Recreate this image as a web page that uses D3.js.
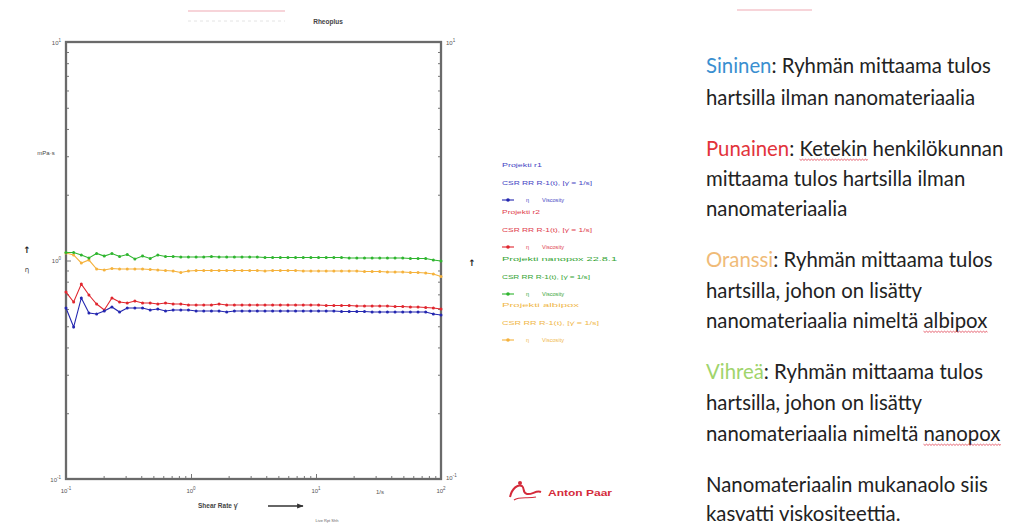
<!DOCTYPE html>
<html><head><meta charset="utf-8">
<script src="https://cdn.jsdelivr.net/npm/d3@7"></script>
<style>body{margin:0;background:#fff}svg{display:block}</style>
</head><body>
<svg id="c" width="1016" height="526"></svg>
<script>
// ---------- data ----------
const shearRate = [0.1,0.1151,0.1326,0.1526,0.1758,0.2024,0.2330,0.2683,0.3089,0.3556,
  0.4095,0.4715,0.5429,0.6251,0.7197,0.8287,0.9541,1.0985,1.2649,1.4564,
  1.6768,1.9307,2.2230,2.5595,2.9471,3.3932,3.9069,4.4984,5.1795,5.9636,
  6.8665,7.9060,9.1030,10.481,12.068,13.895,15.999,18.421,21.210,24.421,
  28.118,32.375,37.276,42.919,49.417,56.899,65.513,75.431,86.851,100];
const blueVisc = [0.606,0.496,0.674,0.575,0.569,0.587,0.613,0.581,0.606,0.606,
  0.606,0.594,0.600,0.587,0.594,0.594,0.594,0.587,0.587,0.587,
  0.587,0.581,0.587,0.587,0.587,0.587,0.587,0.587,0.587,0.587,
  0.587,0.587,0.587,0.587,0.587,0.587,0.584,0.584,0.584,0.584,
  0.581,0.581,0.581,0.581,0.581,0.581,0.581,0.581,0.569,0.563];
const redVisc = [0.717,0.646,0.780,0.695,0.632,0.594,0.674,0.646,0.639,0.652,
  0.639,0.639,0.632,0.639,0.632,0.632,0.626,0.626,0.626,0.626,
  0.632,0.626,0.626,0.626,0.626,0.626,0.626,0.626,0.626,0.626,
  0.626,0.626,0.626,0.626,0.622,0.622,0.622,0.622,0.619,0.619,
  0.619,0.619,0.619,0.616,0.616,0.613,0.613,0.609,0.606,0.600];
const greenVisc = [1.088,1.088,1.060,1.027,1.077,1.048,1.077,1.043,1.065,1.016,
  1.048,1.021,1.060,1.043,1.043,1.037,1.037,1.037,1.037,1.043,
  1.037,1.037,1.037,1.037,1.037,1.037,1.032,1.032,1.032,1.032,
  1.032,1.032,1.032,1.032,1.032,1.032,1.032,1.027,1.027,1.027,
  1.027,1.027,1.027,1.027,1.027,1.021,1.021,1.021,1.005,0.995];
const orangeVisc = [1.082,1.060,0.974,1.005,0.914,0.905,0.919,0.914,0.914,0.914,
  0.914,0.910,0.905,0.900,0.895,0.881,0.895,0.900,0.900,0.900,
  0.900,0.900,0.900,0.900,0.900,0.900,0.895,0.900,0.900,0.900,
  0.900,0.895,0.895,0.895,0.895,0.895,0.895,0.895,0.895,0.891,
  0.891,0.891,0.886,0.886,0.886,0.881,0.881,0.877,0.868,0.845];
const seriesKeys = ["blue","red","green","orange"];
const legendHeaders = ["Projekti r1","Projekti r2","Projekti nanopox 22.8.1","Projekti albipox"];
const legendSub = "CSR RR R-1(t), [γ̇ = 1/s]";
const legendSym = "Viscosity";
const xDecades = [0.1,1,10,100];
const yDecades = [0.1,1,10];
const noteLines = [
  [{t:"Sininen",c:"blue"},{t:": Ryhmän mittaama tulos"}],
  [{t:"hartsilla ilman nanomateriaalia"}],
  [{t:"Punainen",c:"red"},{t:": "},{t:"Ketekin",w:1},{t:" henkilökunnan"}],
  [{t:"mittaama tulos hartsilla ilman"}],
  [{t:"nanomateriaalia"}],
  [{t:"Oranssi",c:"orange"},{t:": Ryhmän mittaama tulos"}],
  [{t:"hartsilla, johon on lisätty"}],
  [{t:"nanomateriaalia nimeltä "},{t:"albipox",w:1}],
  [{t:"Vihreä",c:"green"},{t:": Ryhmän mittaama tulos"}],
  [{t:"hartsilla, johon on lisätty"}],
  [{t:"nanomateriaalia nimeltä "},{t:"nanopox",w:1}],
  [{t:"Nanomateriaalin mukanaolo siis"}],
  [{t:"kasvatti viskositeettia."}]
];
const noteY = [65,97,148,178,208,259,290,320,371,402,433,484,513];

// ---------- styles ----------
const lineCol = {blue:"#2427b0", red:"#e0262e", green:"#2fb52f", orange:"#f5b23c"};
const legCol = {blue:"#4545c4", red:"#e0404e", green:"#35a535", orange:"#f0b84a"};
const noteCol = {blue:"#3a8fd0", red:"#e2333b", green:"#a0d46c", orange:"#f0bb78"};
const data = {blue:blueVisc, red:redVisc, green:greenVisc, orange:orangeVisc};

const svg = d3.select("#c");
svg.append("rect").attr("width",1016).attr("height",526).attr("fill","#fff");

const L=66,R=441,T=42,B=479;
const x = d3.scaleLog().domain([0.1,100]).range([L,R]);
const y = d3.scaleLog().domain([0.1,10]).range([B,T]);

// faint remnants at top
svg.append("line").attr("x1",188).attr("x2",285).attr("y1",11).attr("y2",11).attr("stroke","#f4c6cd").attr("stroke-width",1.5);
svg.append("line").attr("x1",188).attr("x2",285).attr("y1",21).attr("y2",21).attr("stroke","#e4e4e4").attr("stroke-dasharray","3,3");
svg.append("line").attr("x1",737).attr("x2",812).attr("y1",10).attr("y2",10).attr("stroke","#f4c6cd").attr("stroke-width",1.5);

svg.append("text").attr("x",328).attr("y",24).attr("text-anchor","middle")
  .attr("font-family","Liberation Sans").attr("font-size",6.5).attr("font-weight","bold").attr("fill","#444").text("Rheoplus");

// minor / major tick values
function minorVals(lo,hi){const v=[];for(let e=Math.log10(lo);e<Math.log10(hi);e++){for(let m=2;m<=9;m++)v.push(m*Math.pow(10,e));}return v;}
const gAx = svg.append("g").attr("stroke","#777");
function styleAxis(g){g.select(".domain").remove();g.selectAll("line").attr("stroke","#777").attr("stroke-width",1);g.selectAll("text").remove();}
gAx.append("g").attr("transform",`translate(${L},0)`).call(d3.axisLeft(y).tickValues(minorVals(0.1,10)).tickSize(-3)).call(styleAxis);
gAx.append("g").attr("transform",`translate(${L},0)`).call(d3.axisLeft(y).tickValues(yDecades).tickSize(-5)).call(styleAxis);
gAx.append("g").attr("transform",`translate(${R},0)`).call(d3.axisRight(y).tickValues(minorVals(0.1,10)).tickSize(-3)).call(styleAxis);
gAx.append("g").attr("transform",`translate(0,${B})`).call(d3.axisBottom(x).tickValues(minorVals(0.1,100)).tickSize(-3)).call(styleAxis);
gAx.append("g").attr("transform",`translate(0,${B})`).call(d3.axisBottom(x).tickValues(xDecades).tickSize(-5)).call(styleAxis);

// frame
svg.append("rect").attr("x",L).attr("y",T).attr("width",R-L).attr("height",B-T)
  .attr("fill","none").attr("stroke","#6a6a6a").attr("stroke-width",2.3);

// tick labels
function pow10(g,px,py,v,anchor){
  const e=Math.round(Math.log10(v));
  const t=g.append("text").attr("x",px).attr("y",py).attr("text-anchor",anchor)
    .attr("font-family","Liberation Sans").attr("font-size",6).attr("fill","#555");
  t.append("tspan").text("10");
  t.append("tspan").attr("dy",-3).attr("font-size",4.5).text(e);
}
const gl=svg.append("g");
yDecades.forEach(v=>pow10(gl,L-5,y(v)+2.5,v,"end"));
pow10(gl,R+5,y(10)+2.5,10,"start");
pow10(gl,R+5,y(0.1)+1,0.1,"start");
xDecades.forEach(v=>pow10(gl,x(v),B+14,v,"middle"));
gl.append("text").attr("x",380).attr("y",B+15).attr("text-anchor","middle").attr("font-family","Liberation Sans").attr("font-size",6).attr("fill","#555").text("1/s");
gl.append("text").attr("x",46).attr("y",155).attr("text-anchor","middle").attr("font-family","Liberation Sans").attr("font-size",6).attr("fill","#444").text("mPa·s");
gl.append("text").attr("x",27).attr("y",253).attr("text-anchor","middle").attr("font-family","DejaVu Sans").attr("font-size",9).attr("font-weight","bold").attr("fill","#222").text("↑");
gl.append("text").attr("x",27).attr("y",272).attr("text-anchor","middle").attr("font-family","DejaVu Sans").attr("font-size",7).attr("fill","#444").text("η");
gl.append("text").attr("x",472).attr("y",266).attr("text-anchor","middle").attr("font-family","DejaVu Sans").attr("font-size",9).attr("font-weight","bold").attr("fill","#222").text("↑");
gl.append("text").attr("x",198).attr("y",508).attr("font-family","Liberation Sans").attr("font-size",6.5).attr("font-weight","bold").attr("fill","#444").text("Shear Rate γ̇");
svg.append("defs").append("marker").attr("id","ah").attr("viewBox","0 0 10 10").attr("refX",9).attr("refY",5)
  .attr("markerWidth",6).attr("markerHeight",5).attr("orient","auto")
  .append("path").attr("d","M0,1L10,5L0,9z").attr("fill","#333");
gl.append("line").attr("x1",268).attr("x2",303).attr("y1",506).attr("y2",506).attr("stroke","#333").attr("stroke-width",1.3).attr("marker-end","url(#ah)");
gl.append("text").attr("x",327).attr("y",522).attr("text-anchor","middle").attr("font-family","Liberation Sans").attr("font-size",4).attr("fill","#666").text("Live Rpt Shh");

// series
const line = d3.line().x((d,i)=>x(shearRate[i])).y(d=>y(d));
const gs = svg.append("g");
["orange","green","red","blue"].forEach(k=>{
  gs.append("path").datum(data[k]).attr("d",line).attr("fill","none").attr("stroke",lineCol[k]).attr("stroke-width",1.1);
  gs.selectAll(null).data(data[k]).enter().append("circle")
    .attr("cx",(d,i)=>x(shearRate[i])).attr("cy",d=>y(d)).attr("r",1.5).attr("fill",lineCol[k]);
});

// legend
const lg = svg.append("g").attr("font-family","Liberation Sans").attr("font-size",5.5);
const legW=[40,38,115,77];
const subW=[90,90,88,97];
const rowY0=[165,212,259,305];
seriesKeys.forEach((k,i)=>{
  const y0=rowY0[i];
  lg.append("text").attr("x",502).attr("y",y0+2).attr("fill",legCol[k]).attr("textLength",legW[i]).attr("lengthAdjust","spacingAndGlyphs").text(legendHeaders[i]);
  lg.append("text").attr("x",502).attr("y",y0+20).attr("fill",legCol[k]).attr("textLength",subW[i]).attr("lengthAdjust","spacingAndGlyphs").text(legendSub);
  const sy=y0+35;
  lg.append("line").attr("x1",502).attr("x2",514).attr("y1",sy).attr("y2",sy).attr("stroke",lineCol[k]).attr("stroke-width",1.1);
  lg.append("circle").attr("cx",508).attr("cy",sy).attr("r",1.8).attr("fill",lineCol[k]);
  lg.append("text").attr("x",526).attr("y",sy+2).attr("fill",legCol[k]).text("η");
  lg.append("text").attr("x",542).attr("y",sy+2).attr("fill",legCol[k]).attr("textLength",22).attr("lengthAdjust","spacingAndGlyphs").text(legendSym);
});

// Anton Paar logo
const ap = svg.append("g");
ap.append("path").attr("d","M510,497 C512,488 518,484 522,486 C525,488 522,493 527,494 C532,495 536,490 541,492")
  .attr("fill","none").attr("stroke","#d42a3a").attr("stroke-width",2);
ap.append("path").attr("d","M514,500 C520,496 528,499 536,497").attr("fill","none").attr("stroke","#d42a3a").attr("stroke-width",1.2);
ap.append("circle").attr("cx",520).attr("cy",483).attr("r",2).attr("fill","#d42a3a");
ap.append("text").attr("x",548).attr("y",496).attr("font-family","Liberation Sans").attr("font-size",9).attr("font-weight","bold")
  .attr("fill","#d42a3a").attr("textLength",64).attr("lengthAdjust","spacingAndGlyphs").text("Anton Paar");

// right-hand notes
const gn = svg.append("g");
const fontFam = "Lato";
const probe = gn.append("text").attr("font-family",fontFam).attr("font-size",20).text("Sininen: Ryhmän mittaama tulos");
const w20 = probe.node().getComputedTextLength();
probe.remove();
const fs = 20*285/w20;
noteLines.forEach((segs,i)=>{
  const t = gn.append("text").attr("x",706).attr("y",noteY[i]).attr("dominant-baseline","central")
    .attr("font-family",fontFam).attr("font-size",fs).attr("fill","#222");
  segs.forEach(s=>t.append("tspan").attr("fill",s.c?noteCol[s.c]:"#222").text(s.t));
  let idx=0;
  segs.forEach(s=>{
    if(s.w){
      const n=t.node();
      const x0=n.getStartPositionOfChar(idx).x, x1=n.getEndPositionOfChar(idx+s.t.length-1).x;
      const yy=noteY[i]+fs*0.55;
      let d=`M${x0},${yy}`;
      for(let xx=x0,k=0;xx<x1;xx+=1.5,k++) d+=`L${Math.min(xx+1.5,x1)},${yy+(k%2?0:1.2)}`;
      gn.append("path").attr("d",d).attr("fill","none").attr("stroke","#e04050").attr("stroke-width",0.8);
    }
    idx+=s.t.length;
  });
});
</script>
</body></html>
